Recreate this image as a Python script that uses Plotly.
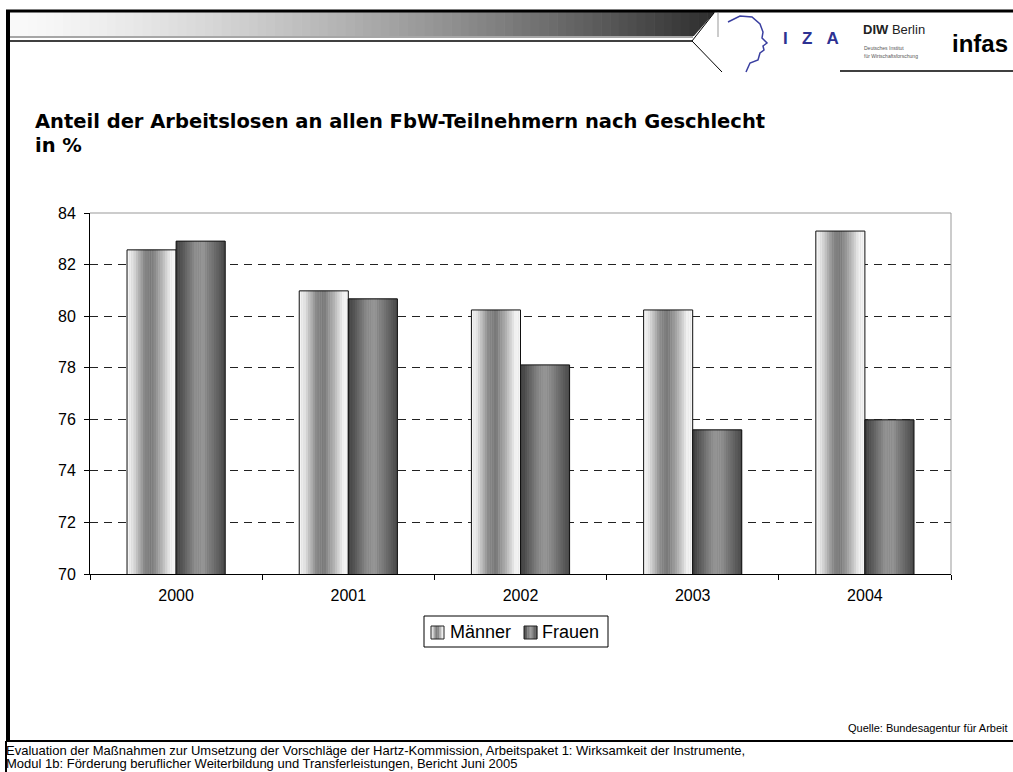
import numpy as np
import plotly.graph_objects as go

# data (percent)
years = ["2000", "2001", "2002", "2003", "2004"]
maenner = [82.57, 80.98, 80.24, 80.24, 83.30]
frauen = [82.91, 80.67, 78.11, 75.59, 75.98]
y_ticks = [70, 72, 74, 76, 78, 80, 82, 84]

W, H = 1013, 772
L, R, T, B = 90, 951, 213, 574
FONT = "Arial, Liberation Sans, sans-serif"


def px(x):
    return (x - L) / (R - L)


def py(y):
    return (B - y) / (B - T)


def grey(stops, t):
    pos = [s[0] for s in stops]
    val = [s[1] for s in stops]
    g = int(round(np.interp(t, pos, val)))
    return f"rgb({g},{g},{g})"


# bar shading (cylinder-like gradient)
men_stops = [(0, 248), (0.12, 225), (0.35, 135), (0.5, 120), (0.7, 175), (0.88, 240), (1, 246)]
women_stops = [(0, 60), (0.15, 90), (0.4, 145), (0.55, 150), (0.8, 105), (1, 70)]

bw = 0.285
n_strips = 22

fig = go.Figure()


def add_series(name, vals, off, stops, base_col):
    fig.add_trace(go.Bar(x=years, y=vals, width=bw, offset=off, name=name,
                         marker=dict(color=base_col, line=dict(width=0)),
                         showlegend=False, hoverinfo="skip"))
    sw = bw / n_strips
    for i in range(n_strips):
        t = (i + 0.5) / n_strips
        fig.add_trace(go.Bar(x=years, y=vals, width=sw * 1.05, offset=off + i * sw,
                             marker=dict(color=grey(stops, t), line=dict(width=0)),
                             showlegend=False, hoverinfo="skip"))
    fig.add_trace(go.Bar(x=years, y=vals, width=bw, offset=off, name=name,
                         marker=dict(color="rgba(0,0,0,0)", line=dict(color="#111", width=1)),
                         showlegend=False, hovertemplate=name + " %{x}: %{y:.1f}<extra></extra>"))


add_series("Männer", maenner, -bw, men_stops, "rgb(190,190,190)")
add_series("Frauen", frauen, 0, women_stops, "rgb(110,110,110)")

shapes = []


def line(x0, y0, x1, y1, color="#000", width=1):
    shapes.append(dict(type="line", xref="paper", yref="paper",
                       x0=px(x0), y0=py(y0), x1=px(x1), y1=py(y1),
                       line=dict(color=color, width=width)))


def rect(x0, y0, x1, y1, fill, lc=None, lw=0):
    shapes.append(dict(type="rect", xref="paper", yref="paper",
                       x0=px(x0), y0=py(y0), x1=px(x1), y1=py(y1),
                       fillcolor=fill, line=dict(color=lc or fill, width=lw), layer="above"))


# header gradient bar
hx0, hx1 = 10, 716
n_head = 80
for i in range(n_head):
    a = hx0 + (hx1 - hx0) * i / n_head
    b = hx0 + (hx1 - hx0) * (i + 1) / n_head
    t = (i + 0.5) / n_head
    g = int(250 - 205 * t ** 1.4)
    rect(a, 12, b + 0.6, 36, f"rgb({g},{g},{g})")
# slanted cut of the header bar
shapes.append(dict(type="path", xref="paper", yref="paper", layer="above",
                   path=f"M {px(693)},{py(37)} L {px(715)},{py(12)} L {px(722)},{py(12)} L {px(722)},{py(38)} Z",
                   fillcolor="white", line=dict(width=0)))
line(6, 11, 1013, 11, "#000", 3)
line(10, 37, 693, 37, "#888", 1.5)
line(10, 41, 692, 41, "#000", 1.5)
line(692, 41, 714, 13, "#000", 1)
line(692, 41, 722, 72, "#000", 1)
line(718, 13, 718, 37, "#999", 1)
line(840, 71, 1013, 71, "#000", 1.5)
# IZA head outline
head = [(728, 22), (740, 16), (752, 17), (760, 24), (763, 32), (762, 38), (767, 43),
        (763, 46), (764, 50), (760, 53), (758, 60), (750, 63), (746, 72)]
shapes.append(dict(type="path", xref="paper", yref="paper", layer="above",
                   path="M " + " L ".join(f"{px(a)},{py(b)}" for a, b in head),
                   line=dict(color="#3a3fa0", width=1.5)))

# slide frame left + footer rule
line(8, 10, 8, 741, "#000", 4)
line(6, 741, 6, 772, "#000", 2)
line(6, 741, 1013, 741, "#000", 2)

# plot frame top / right (grey)
line(L, T, R, T, "#999", 1)
line(R, T, R, B, "#999", 1)

# legend box with shaded keys
rect(424, 616, 608, 647, "rgba(0,0,0,0)", "#000", 1)
for (kx, stops) in [(431, men_stops), (524, women_stops)]:
    k = 8
    for i in range(k):
        a = kx + 13 * i / k
        rect(a, 626, a + 13 / k + 0.3, 639, grey(stops, (i + 0.5) / k))
    shapes.append(dict(type="rect", xref="paper", yref="paper", layer="above",
                       x0=px(kx), y0=py(626), x1=px(kx + 13), y1=py(639),
                       line=dict(color="#222", width=1)))

ann = []


def text(x, y, s, size, xanchor="left", color="#000", family=FONT):
    ann.append(dict(x=px(x), y=py(y), xref="paper", yref="paper", text=s, showarrow=False,
                    xanchor=xanchor, yanchor="middle", align="left",
                    font=dict(size=size, color=color, family=family)))


TITLE_FONT = "DejaVu Sans, Arial, sans-serif"
text(33, 121, "<b>Anteil der Arbeitslosen an allen FbW-Teilnehmern nach Geschlecht</b>", 19.5,
     family=TITLE_FONT)
text(33, 145, "<b>in %</b>", 19.5, family=TITLE_FONT)
text(448, 632, "Männer", 18)
text(540, 632, "Frauen", 18)
text(781, 38, "<b>I\u00a0\u00a0\u00a0Z\u00a0\u00a0\u00a0A</b>", 17, color="#2d3192")
text(861, 29, "<b>DIW</b> Berlin", 13, color="#222")
text(862, 48, "Deutsches Institut", 5, color="#555")
text(862, 56, "für Wirtschaftsforschung", 5, color="#555")
text(950, 43, "<b>infas</b>", 24)
text(1010, 728, "Quelle: Bundesagentur für Arbeit", 11, xanchor="right")
text(4, 750, "Evaluation der Maßnahmen zur Umsetzung der Vorschläge der Hartz-Kommission, "
             "Arbeitspaket 1: Wirksamkeit der Instrumente,", 13)
text(4, 763, "Modul 1b: Förderung beruflicher Weiterbildung und Transferleistungen, Bericht Juni 2005", 13)

fig.update_layout(
    width=W, height=H,
    margin=dict(l=L, r=W - R, t=T, b=H - B),
    paper_bgcolor="white", plot_bgcolor="white",
    barmode="overlay",
    showlegend=False,
    font=dict(family=FONT, color="#000"),
    shapes=shapes, annotations=ann,
    xaxis=dict(type="category", tickson="boundaries", ticks="outside", ticklen=5,
               tickcolor="#000", showline=True, linecolor="#000", linewidth=1,
               showgrid=False, tickfont=dict(size=16), ticklabelstandoff=7,
               range=[-0.5, 4.5]),
    yaxis=dict(range=[70, 84], tickvals=y_ticks, ticks="outside", ticklen=5,
               tickcolor="#000", showline=True, linecolor="#000", linewidth=1,
               showgrid=True, gridcolor="#222", griddash="8px,6px", gridwidth=1,
               zeroline=False, tickfont=dict(size=16), ticklabelstandoff=5),
)

fig.write_html("out.html", config={"displayModeBar": False},
               post_script="document.body.style.margin='0';")
